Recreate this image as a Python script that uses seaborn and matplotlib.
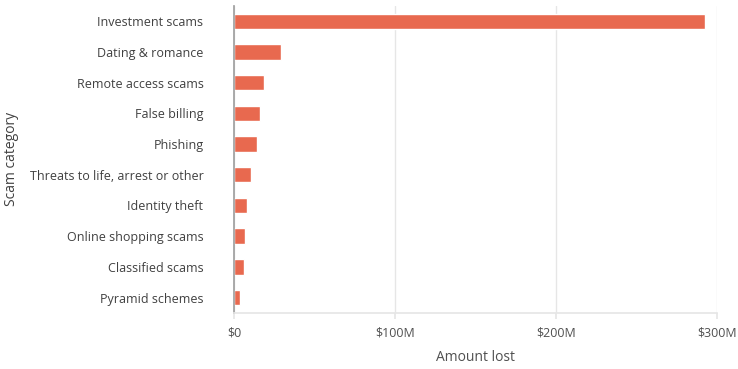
import seaborn as sns
import pandas as pd
import matplotlib.pyplot as plt
from matplotlib.ticker import FuncFormatter

categories = [
    "Investment scams",
    "Dating & romance",
    "Remote access scams",
    "False billing",
    "Phishing",
    "Threats to life, arrest or other",
    "Identity theft",
    "Online shopping scams",
    "Classified scams",
    "Pyramid schemes",
]
# amount lost, millions of dollars
amount_lost = [292.9, 29.0, 18.7, 16.0, 14.1, 10.8, 7.9, 6.6, 6.0, 3.7]
x_ticks = [0, 100, 200, 300]

df = pd.DataFrame({"category": categories, "amount": amount_lost})

sns.set_theme(style="white")
plt.rcParams["font.family"] = ["Open Sans", "DejaVu Sans"]

fig, ax = plt.subplots(figsize=(7.38, 3.69), dpi=100)
fig.subplots_adjust(left=0.317, right=0.971, top=0.984, bottom=0.152)

sns.barplot(data=df, x="amount", y="category", color="#E8694F", saturation=1,
            width=0.5, ax=ax, orient="h")

ax.set_xlim(0, 300)
ax.set_xticks(x_ticks)
ax.xaxis.set_major_formatter(FuncFormatter(lambda v, p: "$0" if v == 0 else "$%dM" % v))
ax.grid(axis="x", color="#e6e6e6", linewidth=1)
ax.set_axisbelow(True)

for s in ["top", "right"]:
    ax.spines[s].set_visible(False)
ax.spines["left"].set_color("#a0a0a0")
ax.spines["bottom"].set_color("#e6e6e6")

ax.tick_params(axis="y", length=0, pad=22, labelsize=9, labelcolor="#404040")
ax.tick_params(axis="x", length=4, color="#e6e6e6", pad=6, labelsize=9,
               labelcolor="#505050", bottom=True)

ax.set_xlabel("Amount lost", fontsize=10, color="#505050", labelpad=7)
ax.set_ylabel("Scam category", fontsize=10, color="#404040")
ax.yaxis.set_label_coords(-0.446, 0.5)

fig.savefig("out.png", dpi=100)
